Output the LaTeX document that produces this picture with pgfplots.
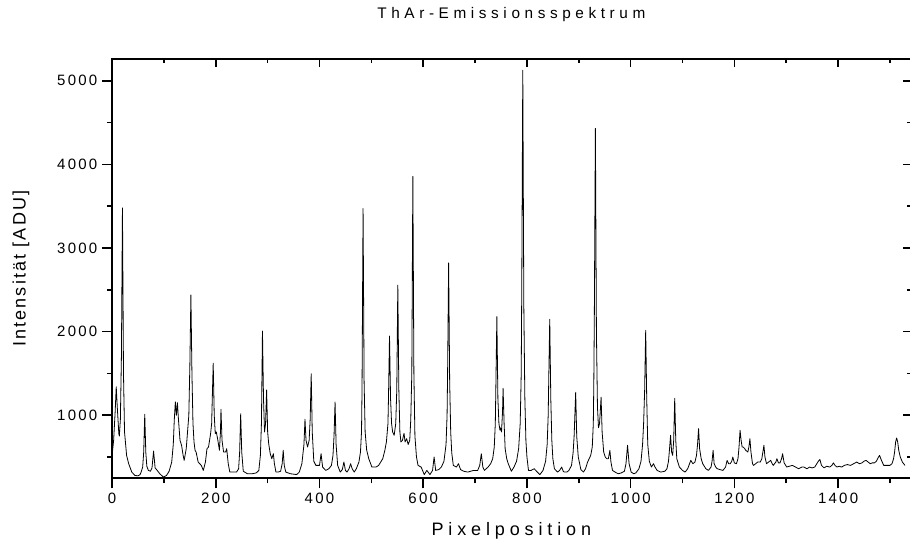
\documentclass[border=0pt]{standalone}
\usepackage{fontspec}
\setmainfont{Liberation Sans}
\newfontfamily\tickfont[LetterSpace=15]{Liberation Sans}
\newfontfamily\titlefont[LetterSpace=30]{Liberation Sans}
\newfontfamily\xlabfont[LetterSpace=27]{Liberation Sans}
\newfontfamily\ylabfont[LetterSpace=12]{Liberation Sans}
\usepackage{pgfplots}
\pgfplotsset{compat=1.18}

% 1 px of the reference = 0.75 pt
\pgfplotsset{
  frame/.style={
    width=598.5pt, height=314.25pt, scale only axis,
    xmin=0, xmax=1540, ymin=245, ymax=5260,
    xtick={0,200,...,1400}, minor xtick={100,300,...,1500},
    ytick={1000,2000,...,5000}, minor ytick={500,1500,...,4500},
  }
}

\begin{document}
\begin{tikzpicture}
\begin{axis}[frame, name=ax,
  axis line style={line width=1.3pt},
  every tick/.style={black, line width=1.2pt},
  xtick pos=bottom, ytick pos=left,
  tick align=outside,
  major tick length=7.5pt, minor tick length=3.75pt,
  /pgf/number format/assume math mode=true,
  /pgf/number format/set thousands separator={},
  tick label style={font=\tickfont\fontsize{11.25}{12}\selectfont},
  title={ThAr-Emissionsspektrum},
  title style={font=\titlefont\fontsize{11.5}{13}\selectfont,
    at={(axis description cs:0.5,1.086)}, anchor=center},
  xlabel={Pixelposition},
  xlabel style={font=\xlabfont\fontsize{13.5}{15}\selectfont,
    at={(axis description cs:0.5,-0.124)}, anchor=center},
  ylabel={Intensität [ADU]},
  ylabel style={font=\ylabfont\fontsize{13.5}{15}\selectfont,
    at={(axis description cs:-0.114,0.5)}, anchor=center},
]
\addplot[black, line width=0.6pt, line join=round] coordinates {
(0,520) (3,700) (6,1050) (8,1340) (10,1100) (13,780) (14,750) (16,950) (18,1700)
(20,3480) (22,1500) (24,800) (28,520) (32,420) (38,320) (44,280) (50,275) (54,290)
(56,320) (59,380) (61,560) (63,1010) (65,560) (67,390) (70,340) (74,330)
(77,370) (80,572) (83,370) (87,340) (92,300) (99,260) (105,280) (110,330)
(115,440) (118,650) (120,950) (122,1160) (124,1000) (126,1150) (128,950)
(131,700) (134,640) (137,520) (139,460) (143,600) (148,1000) (150,1600)
(152,2440) (154,1500) (156,900) (158,680) (160,580) (162,560) (166,440)
(172,400) (176,340) (180,440) (183,600) (186,620) (190,780) (192,900)
(195,1623) (197,1000) (199,780) (201,800) (204,700) (207,580) (209,800)
(210,1070) (212,700) (215,560) (219,560) (221,600) (224,420) (227,320)
(233,320) (240,320) (244,360) (246,560) (248,1018) (250,560) (253,330)
(261,300) (270,300) (278,310) (283,340) (286,520) (288,900) (290,2007)
(292,1200) (294,800) (296,900) (298,1302) (300,800) (302,660) (305,540)
(308,480) (311,540) (313,420) (316,320) (320,320) (325,330) (328,420)
(330,580) (332,400) (335,320) (344,300) (350,295) (356,290) (361,320)
(366,420) (370,650) (372,953) (374,700) (377,620) (380,700) (382,950)
(384,1495) (386,800) (389,450) (393,400) (400,400) (403,540) (406,380)
(412,340) (418,360) (423,400) (426,520) (428,750) (430,1158) (432,650)
(435,400) (440,320) (444,350) (447,440) (450,340) (453,320) (457,360)
(460,420) (463,360) (467,320) (471,360) (476,440) (479,560) (481,800)
(482,1300) (484,3472) (486,1400) (488,800) (491,580) (495,480) (501,380)
(509,380) (514,400) (518,440) (522,480) (526,580) (529,680) (532,900)
(533,1200) (535,1947) (537,1200) (539,900) (541,800) (544,760) (547,900)
(549,1300) (551,2556) (553,1300) (555,800) (557,680) (560,700) (563,784)
(565,680) (568,720) (571,650) (574,700) (576,950) (578,1500) (580,3856)
(582,1500) (584,750) (587,500) (590,400) (596,380) (602,290) (607,340)
(613,290) (618,340) (621,500) (624,340) (630,350) (635,380) (640,450)
(644,650) (646,1000) (647,1500) (649,2823) (651,1400) (653,800) (655,550)
(658,400) (664,380) (668,420) (672,350) (678,330) (686,320) (697,340)
(705,340) (709,400) (712,540) (715,380) (718,340) (725,380) (730,420)
(734,480) (737,620) (739,900) (740,1300) (742,2179) (744,1200) (746,900)
(748,820) (749,850) (751,800) (753,1050) (754,1322) (756,900) (758,600)
(761,480) (764,420) (770,330) (775,380) (780,450) (784,600) (787,900)
(789,1500) (790,2500) (792,5125) (794,2300) (796,1200) (798,700) (800,500)
(803,340) (808,340) (814,360) (820,320) (825,290) (831,340) (836,450)
(839,650) (841,1000) (842,1400) (844,2148) (846,1200) (848,700) (850,480)
(853,360) (859,320) (863,340) (867,380) (870,330) (872,320) (877,320)
(881,340) (886,400) (889,550) (891,750) (894,1275) (896,750) (899,500)
(904,350) (909,320) (913,360) (917,440) (920,480) (923,520) (926,620)
(928,900) (929,1400) (930,2200) (932,4431) (934,2000) (936,1100) (938,850)
(940,900) (941,1000) (943,1215) (945,800) (948,560) (951,500) (954,480)
(957,480) (960,580) (962,440) (965,340) (970,320) (976,300) (982,310)
(988,330) (991,420) (994,640) (997,420) (1001,320) (1006,300) (1010,310)
(1016,360) (1020,450) (1023,650) (1025,900) (1027,1300) (1029,2015)
(1031,1200) (1033,650) (1036,450) (1040,380) (1044,420) (1047,380)
(1051,340) (1058,320) (1066,330) (1070,360) (1073,450) (1075,600)
(1077,760) (1079,560) (1081,520) (1083,700) (1085,1203) (1087,700)
(1089,480) (1094,380) (1100,340) (1105,320) (1110,360) (1116,460)
(1120,420) (1124,440) (1127,520) (1129,650) (1131,840) (1133,600)
(1136,480) (1139,420) (1145,360) (1150,340) (1155,380) (1157,450)
(1159,580) (1161,420) (1164,380) (1167,360) (1172,350) (1178,340)
(1183,380) (1186,460) (1189,420) (1192,420) (1195,450) (1197,500)
(1200,430) (1204,420) (1207,480) (1209,620) (1211,820) (1213,700)
(1215,620) (1217,620) (1220,600) (1222,580) (1226,560) (1228,620)
(1230,720) (1232,560) (1235,420) (1237,400) (1241,420) (1245,440)
(1250,440) (1253,480) (1255,560) (1257,640) (1259,500) (1262,420)
(1266,440) (1270,460) (1273,420) (1275,400) (1280,440) (1282,480)
(1285,430) (1288,430) (1291,480) (1293,540) (1296,430) (1301,380)
(1306,390) (1312,400) (1318,380) (1324,360) (1330,380) (1334,380)
(1340,360) (1345,380) (1350,370) (1355,380) (1359,420) (1362,450)
(1365,470) (1368,400) (1373,370) (1378,390) (1384,380) (1388,400)
(1391,430) (1394,400) (1398,380) (1402,390) (1407,380) (1412,400)
(1418,410) (1424,400) (1430,420) (1436,440) (1441,420) (1446,430)
(1450,450) (1454,460) (1458,440) (1462,420) (1466,430) (1470,430)
(1474,450) (1477,490) (1480,520) (1483,470) (1488,400) (1494,400)
(1500,400) (1504,420) (1507,480) (1509,560) (1511,680) (1513,728)
(1515,680) (1517,580) (1520,500) (1524,440) (1529,400)
};
\end{axis}
% top and right ticks point inward
\begin{axis}[frame,
  axis line style={draw=none},
  every tick/.style={black, line width=1.2pt},
  xtick pos=right, ytick pos=right,
  tick align=inside,
  xticklabels={}, yticklabels={},
  major tick length=6pt, minor tick length=3pt,
]
\end{axis}
\pgfresetboundingbox
\path (-84pt,-48.75pt) rectangle (598pt,358.5pt);
\end{tikzpicture}
\end{document}
